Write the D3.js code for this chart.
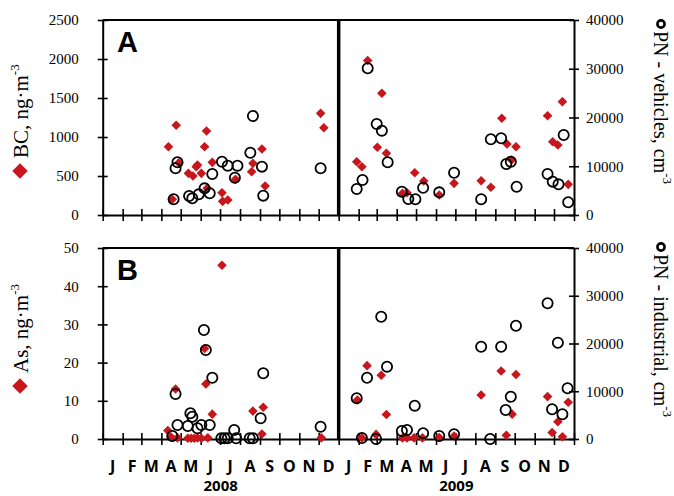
<!DOCTYPE html>
<html>
<head>
<meta charset="utf-8">
<script src="https://cdn.jsdelivr.net/npm/d3@7/dist/d3.min.js"></script>
<style>
  body { margin: 0; background: #fff; }
  svg { display: block; }
</style>
</head>
<body>
<svg id="chart" width="674" height="496"></svg>
<script>
// Panel A : BC (left axis) and PN from vehicles (right axis)
const bc = [
  ["2008-04-12", 876], ["2008-04-24", 1150], ["2008-04-28", 670], ["2008-04-18", 201],
  ["2008-05-13", 534], ["2008-05-20", 500], ["2008-05-27", 641], ["2008-05-25", 619],
  ["2008-06-02", 534], ["2008-06-10", 1077], ["2008-06-07", 876], ["2008-06-19", 675],
  ["2008-06-11", 342], ["2008-07-04", 286], ["2008-07-05", 175], ["2008-07-13", 192],
  ["2008-07-25", 457], ["2008-08-19", 555], ["2008-08-21", 662], ["2008-09-04", 846],
  ["2008-09-09", 372], ["2008-12-04", 1303], ["2008-12-09", 1119],
  ["2009-02-15", 1980], ["2009-03-09", 1560], ["2009-01-29", 683], ["2009-02-06", 619],
  ["2009-03-02", 868], ["2009-03-16", 791], ["2009-04-10", 278], ["2009-04-17", 286],
  ["2009-04-29", 542], ["2009-05-13", 436], ["2009-06-06", 256], ["2009-06-29", 406],
  ["2009-08-10", 440], ["2009-08-25", 355], ["2009-09-11", 1240], ["2009-09-19", 910],
  ["2009-09-26", 705], ["2009-10-03", 876], ["2009-11-21", 1273], ["2009-11-29", 940],
  ["2009-12-07", 897], ["2009-12-14", 1453], ["2009-12-23", 393]
];
const pnVehicles = [
  ["2008-04-23", 9580], ["2008-04-26", 10810], ["2008-04-20", 3220], ["2008-05-14", 3900],
  ["2008-05-19", 3420], ["2008-05-29", 4240], ["2008-06-07", 5470], ["2008-06-15", 4450],
  ["2008-06-19", 8410], ["2008-07-04", 10940], ["2008-07-13", 10120], ["2008-07-28", 10120],
  ["2008-07-24", 7660], ["2008-08-17", 12780], ["2008-08-21", 20310], ["2008-09-04", 9920],
  ["2008-09-06", 3970], ["2008-12-04", 9580],
  ["2009-02-15", 30090], ["2009-01-29", 5330], ["2009-02-07", 7180], ["2009-03-01", 18670],
  ["2009-03-09", 17300], ["2009-03-18", 10810], ["2009-04-09", 4790], ["2009-04-19", 3280],
  ["2009-04-30", 3220], ["2009-05-12", 5600], ["2009-06-06", 4650], ["2009-06-29", 8680],
  ["2009-08-10", 3220], ["2009-08-25", 15530], ["2009-09-10", 15730], ["2009-09-18", 10460],
  ["2009-09-25", 10940], ["2009-10-04", 5810], ["2009-11-21", 8410], ["2009-11-29", 6840],
  ["2009-12-08", 6290], ["2009-12-16", 16410], ["2009-12-23", 2600]
];

// Panel B : As (left axis) and PN from industry (right axis)
const as = [
  ["2008-07-04", 45.5], ["2008-04-23", 13.1], ["2008-04-11", 2.2], ["2008-04-16", 0.5],
  ["2008-04-26", 0.3], ["2008-05-12", 0.2], ["2008-05-17", 0.2], ["2008-05-22", 0.2],
  ["2008-05-27", 0.3], ["2008-06-02", 0.2], ["2008-06-12", 0.3], ["2008-06-07", 23.7],
  ["2008-06-09", 14.4], ["2008-06-19", 6.5], ["2008-08-21", 7.3], ["2008-09-06", 8.3],
  ["2008-09-04", 1.3], ["2008-12-05", 0.3],
  ["2009-01-30", 10.2], ["2009-02-14", 19.2], ["2009-03-08", 16.7], ["2009-03-16", 6.4],
  ["2009-02-06", 0.3], ["2009-02-28", 1.2], ["2009-04-10", 0.3], ["2009-04-17", 0.3],
  ["2009-04-28", 0.3], ["2009-05-11", 0.3], ["2009-06-06", 0.4], ["2009-06-29", 0.8],
  ["2009-08-10", 11.5], ["2009-09-10", 17.8], ["2009-10-03", 16.9], ["2009-09-18", 1.0],
  ["2009-09-27", 6.5], ["2009-11-21", 11.1], ["2009-11-28", 1.7], ["2009-12-07", 4.5],
  ["2009-12-14", 0.6], ["2009-12-23", 9.6]
];
const pnIndustrial = [
  ["2008-04-23", 9420], ["2008-04-18", 630], ["2008-04-26", 2930], ["2008-05-12", 2720],
  ["2008-05-16", 5380], ["2008-05-19", 4670], ["2008-05-27", 2240], ["2008-06-02", 2930],
  ["2008-06-15", 2930], ["2008-06-06", 22830], ["2008-06-09", 18640], ["2008-06-19", 12840],
  ["2008-07-23", 1880], ["2008-07-03", 150], ["2008-07-08", 150], ["2008-07-13", 150],
  ["2008-07-26", 150], ["2008-08-16", 150], ["2008-08-21", 150], ["2008-09-06", 13760],
  ["2008-09-02", 4330], ["2008-12-04", 2580],
  ["2009-01-29", 8520], ["2009-02-14", 12840], ["2009-03-08", 25610], ["2009-03-17", 15150],
  ["2009-02-06", 200], ["2009-02-28", 0], ["2009-04-09", 1680], ["2009-04-17", 1880],
  ["2009-04-29", 6980], ["2009-05-12", 1190], ["2009-06-06", 630], ["2009-06-29", 980],
  ["2009-08-10", 19330], ["2009-08-24", 0], ["2009-09-10", 19330], ["2009-09-17", 6070],
  ["2009-09-25", 8860], ["2009-10-03", 23730], ["2009-11-21", 28420], ["2009-11-28", 6220],
  ["2009-12-07", 20170], ["2009-12-14", 5170], ["2009-12-22", 10620]
];

const monthLabels = ["J", "F", "M", "A", "M", "J", "J", "A", "S", "O", "N", "D"];
const years = [2008, 2009];
const bcTicks = [0, 500, 1000, 1500, 2000, 2500];
const asTicks = [0, 10, 20, 30, 40, 50];
const pnTicks = [0, 10000, 20000, 30000, 40000];

const red = "#c8161d";
const serif = "'Liberation Serif', 'Times New Roman', serif";
const sans = "'Open Sans', 'Liberation Sans', sans-serif";

const svg = d3.select("#chart");
const parse = d3.timeParse("%Y-%m-%d");
const fmt = d3.format("d");

const x = d3.scaleTime()
  .domain([new Date(2008, 0, 1), new Date(2010, 0, 1)])
  .range([102.7, 574]);

// titleY : where the rotated left title starts, keyY : red diamond beside it
const panels = [
  { top: 20, bottom: 215, left: bc, leftMax: 2500, leftTicks: bcTicks, right: pnVehicles,
    letter: "A", leftTitle: "BC, ng·m", rightTitle: "PN - vehicles, cm",
    titleY: 158, keyY: 171, circleY: 24 },
  { top: 248, bottom: 439, left: as, leftMax: 50, leftTicks: asTicks, right: pnIndustrial,
    letter: "B", leftTitle: "As, ng·m", rightTitle: "PN - industrial, cm",
    titleY: 373, keyY: 386, circleY: 247 }
];

const diamond = d3.symbol().type(d3.symbolSquare).size(46);

panels.forEach(p => {
  const yL = d3.scaleLinear().domain([0, p.leftMax]).range([p.bottom, p.top]);
  const yR = d3.scaleLinear().domain([0, 40000]).range([p.bottom, p.top]);
  const g = svg.append("g");

  // top frame line
  g.append("line")
    .attr("x1", x.range()[0]).attr("x2", x.range()[1])
    .attr("y1", p.top).attr("y2", p.top)
    .attr("stroke", "#000").attr("stroke-width", 2);

  // month ticks on x axis
  const xAxis = g.append("g")
    .attr("transform", `translate(0,${p.bottom})`)
    .call(d3.axisBottom(x).ticks(d3.timeMonth.every(1)).tickSizeInner(6).tickSizeOuter(0).tickFormat(""));
  xAxis.selectAll(".tick line").attr("y1", -6).attr("y2", 6).attr("stroke-width", 1.6);
  xAxis.select(".domain").attr("stroke-width", 2);

  const leftAxis = g.append("g")
    .attr("transform", `translate(${x.range()[0]},0)`)
    .call(d3.axisLeft(yL).tickValues(p.leftTicks).tickFormat(fmt)
      .tickSizeInner(5).tickSizeOuter(0).tickPadding(19));
  leftAxis.selectAll(".tick line").attr("x1", 5).attr("x2", -5).attr("stroke-width", 1.6);

  const rightAxis = g.append("g")
    .attr("transform", `translate(${x.range()[1]},0)`)
    .call(d3.axisRight(yR).tickValues(pnTicks).tickFormat(fmt)
      .tickSizeInner(5).tickSizeOuter(0).tickPadding(7));
  rightAxis.selectAll(".tick line").attr("x1", -5).attr("x2", 5).attr("stroke-width", 1.6);

  [leftAxis, rightAxis].forEach(a => {
    a.select(".domain").attr("stroke-width", 2);
    a.selectAll("text").attr("font-family", serif).attr("font-size", 15).attr("fill", "#000");
  });

  // thick divider at the turn of the year
  g.append("line")
    .attr("x1", x(new Date(2009, 0, 1))).attr("x2", x(new Date(2009, 0, 1)))
    .attr("y1", p.top).attr("y2", p.bottom)
    .attr("stroke", "#000").attr("stroke-width", 3.5);

  // red diamonds
  g.append("g").selectAll("path")
    .data(p.left)
    .join("path")
    .attr("d", diamond)
    .attr("transform", d => `translate(${x(parse(d[0]))},${yL(d[1])}) rotate(45)`)
    .attr("fill", red);

  // open circles
  g.append("g").selectAll("circle")
    .data(p.right)
    .join("circle")
    .attr("cx", d => x(parse(d[0])))
    .attr("cy", d => yR(d[1]))
    .attr("r", 5.1)
    .attr("fill", "none")
    .attr("stroke", "#000")
    .attr("stroke-width", 1.8);

  // panel letter
  g.append("text")
    .attr("x", 117).attr("y", p.top + 32)
    .attr("font-family", "'Liberation Sans', Arial, sans-serif")
    .attr("font-weight", "bold").attr("font-size", 29)
    .text(p.letter);

  // left title with red diamond
  g.append("path")
    .attr("d", d3.symbol().type(d3.symbolSquare).size(120))
    .attr("transform", `translate(20,${p.keyY}) rotate(45)`)
    .attr("fill", red);
  const lt = g.append("text")
    .attr("transform", `translate(28,${p.titleY}) rotate(-90)`)
    .attr("font-family", serif).attr("font-size", 21);
  lt.append("tspan").text(p.leftTitle);
  lt.append("tspan").attr("font-size", 13).attr("dy", -9).text("-3");

  // right title with open circle
  g.append("circle")
    .attr("cx", 661).attr("cy", p.circleY)
    .attr("r", 3.6).attr("fill", "none")
    .attr("stroke", "#000").attr("stroke-width", 2.6);
  const rt = g.append("text")
    .attr("transform", `translate(654,${p.circleY + 7}) rotate(90)`)
    .attr("font-family", serif).attr("font-size", 20);
  rt.append("tspan").text(p.rightTitle);
  rt.append("tspan").attr("font-size", 13).attr("dy", -9).text("-3");
});

// month and year labels
const months = d3.timeMonth.range(new Date(2008, 0, 1), new Date(2010, 0, 1));
svg.append("g").selectAll("text")
  .data(months)
  .join("text")
  .attr("x", d => (x(d) + x(d3.timeMonth.offset(d, 1))) / 2)
  .attr("y", 472)
  .attr("text-anchor", "middle")
  .attr("font-family", sans).attr("font-weight", "bold").attr("font-size", 16)
  .text(d => monthLabels[d.getMonth()]);

svg.append("g").selectAll("text")
  .data(years)
  .join("text")
  .attr("x", d => (x(new Date(d, 0, 1)) + x(new Date(d + 1, 0, 1))) / 2)
  .attr("y", 491)
  .attr("text-anchor", "middle")
  .attr("font-family", sans).attr("font-weight", "bold").attr("font-size", 15)
  .text(d => d);
</script>
</body>
</html>
